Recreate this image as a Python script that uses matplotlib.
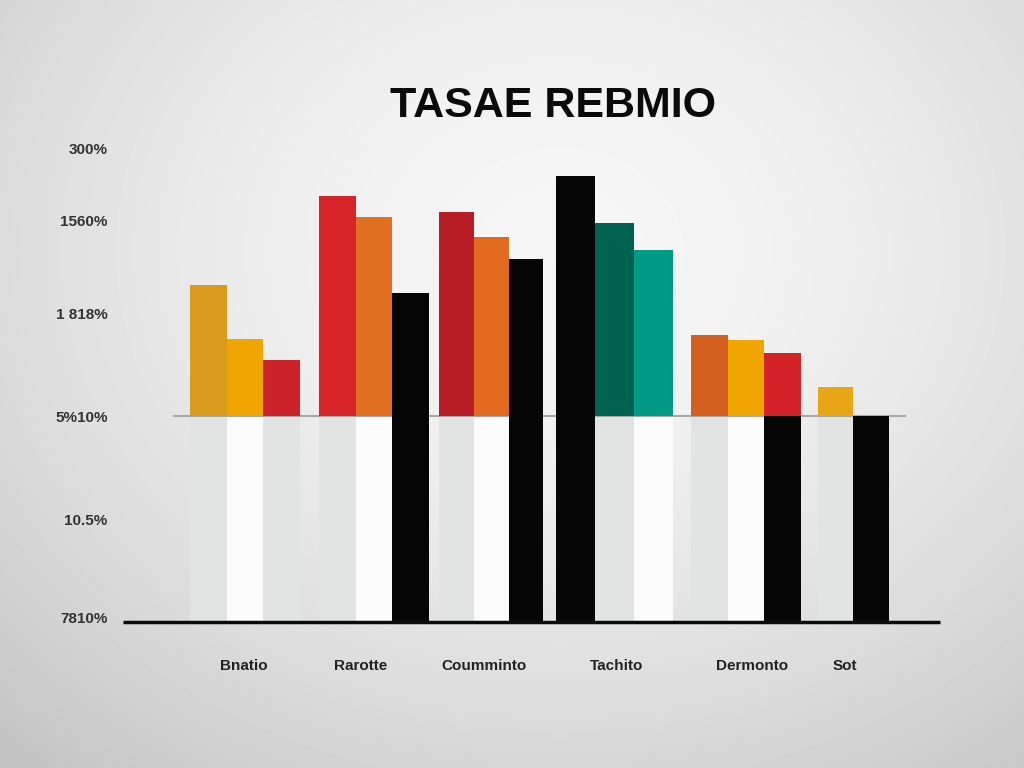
import matplotlib.pyplot as plt
import numpy as np

plt.rcParams['font.family'] = ['Liberation Sans', 'DejaVu Sans']

# 数据
title = 'TASAE REBMIO'
categories = ['Bnatio', 'Rarotte', 'Coumminto', 'Tachito', 'Dermonto', 'Sot']
ytick_values = [65, 47.5, 25, 0, -25, -49]
ytick_labels = ['300%', '1560%', '1 818%', '5%10%', '10.5%', '7810%']

# 每组柱子 (高于基线的值)
bnatio = [31.8, 18.7, 13.6]
rarotte = [53.4, 48.3, 29.9]
coumminto = [49.5, 43.4, 38.1]
tachito = [58.3, 46.8, 40.3]
dermonto = [19.7, 18.4, 15.3]
sot = [7.0, 0.0]
groups = [bnatio, rarotte, coumminto, tachito, dermonto, sot]
bottom_value = -50

# 颜色 / 下方是黑柱还是浅色柱
colors = [
    ['#D99A1E', '#F0A500', '#CC2229'],
    ['#D62429', '#E07020', '#050505'],
    ['#B81C25', '#E26A1F', '#050505'],
    ['#050505', '#00634F', '#009A85'],
    ['#D4601F', '#F0A500', '#D42229'],
    ['#E8A516', '#050505'],
]
below = [
    ['g', 'w', 'g'],
    ['g', 'w', 'k'],
    ['g', 'w', 'k'],
    ['k', 'g', 'w'],
    ['g', 'w', 'k'],
    ['g', 'k'],
]
below_colors = {'g': '#E2E4E4', 'w': '#FBFBFB', 'k': '#050505'}

group_left = [1.84, 5.37, 8.66, 11.86, 15.56, 19.04]
bar_ws = [1.0, 1.0, 0.95, 1.07, 1.0, 0.97]
label_x = [3.32, 6.52, 9.89, 13.53, 17.23, 19.78]

fig = plt.figure(figsize=(10.24, 7.68), dpi=100)

# 背景渐变
bg = fig.add_axes([0, 0, 1, 1])
yy, xx = np.mgrid[0:768, 0:1024]
r = np.sqrt(((xx - 560) / 720.0) ** 2 + ((yy - 250) / 600.0) ** 2)
shade = 0.965 - 0.16 * r ** 1.7
bg.imshow(shade, cmap='gray', vmin=0, vmax=1, aspect='auto',
          extent=[0, 1024, 768, 0], interpolation='bilinear')
bg.set_axis_off()

ax = fig.add_axes([123 / 1024, (768 - 622) / 768, (940 - 123) / 1024, (622 - 140) / 768])
ax.patch.set_alpha(0)
ax.set_xlim(0, 22.38)
ax.set_ylim(-50, 67)

for g, vals in enumerate(groups):
    w = bar_ws[g]
    for i, v in enumerate(vals):
        x = group_left[g] + i * w + w / 2
        bc = below_colors[below[g][i]]
        if below[g][i] == 'k' and colors[g][i] == '#050505':
            ax.bar(x, v - bottom_value, width=w, bottom=bottom_value, color='#050505', zorder=3)
        else:
            ax.bar(x, -bottom_value, width=w, bottom=bottom_value, color=bc,
                   zorder=3 if below[g][i] == 'k' else 1)
            if v > 0:
                ax.bar(x, v, width=w, bottom=0, color=colors[g][i], zorder=3)

# 基线
ax.plot([1.4, 21.42], [0, 0], color='#A8A8A8', lw=1.5, zorder=2)
ax.plot([0, 22.38], [bottom_value, bottom_value], color='#0A0A0A', lw=2.5,
        zorder=4, clip_on=False, solid_capstyle='butt')
ax.axvline(-0.05, ymin=0, ymax=1, color='#E0E0E0', lw=1, zorder=0)

for s in ax.spines.values():
    s.set_visible(False)
ax.set_yticks(ytick_values)
ax.set_yticklabels(ytick_labels, fontsize=11, color='#333333', fontweight='bold')
ax.tick_params(axis='y', length=0, pad=11)

ax.set_xticks(label_x)
ax.set_xticklabels(categories, fontsize=11, color='#222222', fontweight='bold')
ax.tick_params(axis='x', length=0, pad=27)

fig.text(553 / 1024, 1 - 106 / 768, title, ha='center', va='center',
         fontsize=31, fontweight='bold', color='#0A0A0A')

fig.savefig('out.png', dpi=100)
